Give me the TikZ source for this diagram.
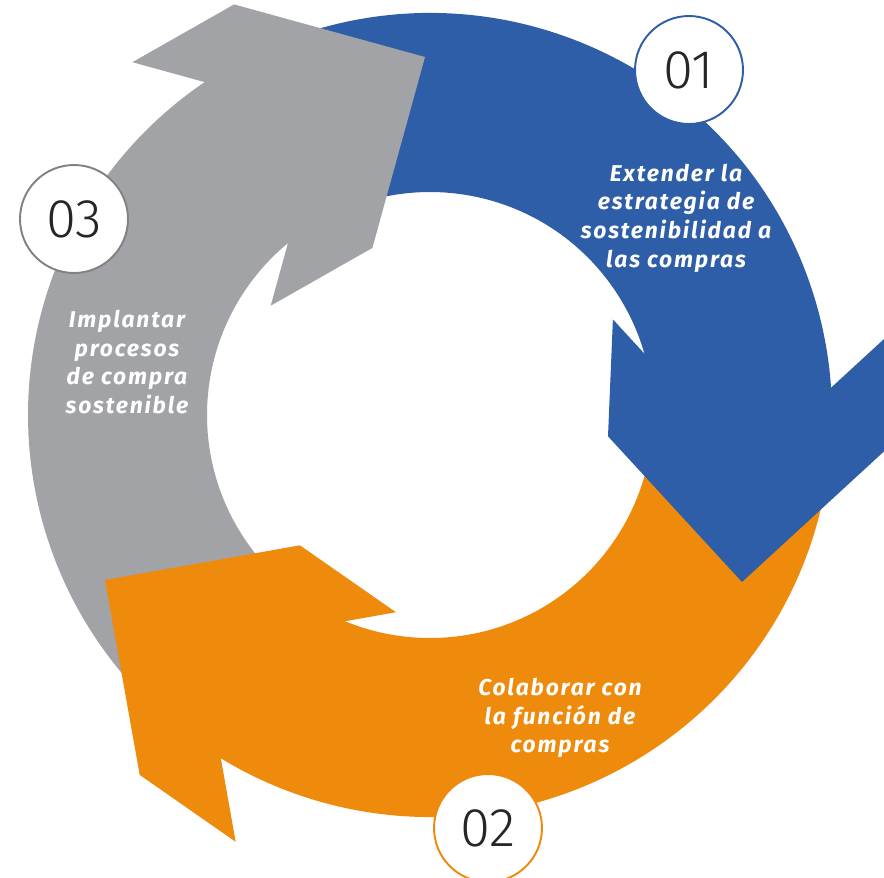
\documentclass[tikz,border=0pt]{standalone}
\usepackage{fontspec}
\setmainfont{Fira Sans}
\newfontfamily\numfont{Fira Sans Light}
\newfontfamily\stepfont{Fira Sans}[LetterSpace=8]
\usepackage{tikz}

\definecolor{ringblue}{RGB}{47,94,168}
\definecolor{ringorange}{RGB}{239,139,12}
\definecolor{ringgray}{RGB}{161,163,166}

\tikzset{
  numcircle/.style={circle,draw=#1,line width=1.1pt,fill=white,minimum size=2.16cm,
    inner sep=0pt,text=black!85,font=\numfont\fontsize{31}{32}\selectfont},
  steptext/.style={align=center,text=white,
    font=\stepfont\bfseries\itshape\fontsize{13}{16.3}\selectfont}
}

\begin{document}
\begin{tikzpicture}[x=0.02cm,y=0.02cm]
      \useasboundingbox (-430,-462) rectangle (454,415);
      \clip (-430,-462) rectangle (454,415);
      % ring pieces
      \fill[ringblue] (107.7:402) arc[start angle=107.7,end angle=-11.3,radius=402]
        -- (-11.3:223) arc[start angle=-11.3,end angle=107.7,radius=223] -- cycle;
      \fill[ringorange] (-11.3:402) arc[start angle=-11.3,end angle=-137.5,radius=402]
        -- (-137.5:223) arc[start angle=-137.5,end angle=-11.3,radius=223] -- cycle;
      \fill[ringgray] (222.5:402) arc[start angle=222.5,end angle=107.7,radius=402]
        -- (107.7:223) arc[start angle=107.7,end angle=222.5,radius=223] -- cycle;
      % heads
      \fill[ringgray] (-5,358) -- (-195.9,410.6) -- (-297.6,352.8) -- (-106.7,300.2)
        -- (-159.3,109.3) -- (-57.6,167.1) -- cycle;
      \fill[ringblue] (312,-167) -- (457.7,-33.0) -- (462.6,83.9) -- (316.9,-50.1)
        -- (182.9,95.6) -- (178.0,-21.3) -- cycle;
      \fill[ringorange] (-325,-165) -- (-290.3,-359.9) -- (-194.3,-426.8) -- (-229,-231.9)
        -- (-34.1,-197.2) -- (-130.1,-130.3) -- cycle;
      % numbers
      \node[numcircle=ringblue] (n01) at (259,345) {01};
      \node[numcircle=ringorange] (n02) at (58,-413) {02};
      \node[numcircle=ringgray!80!black] (n03) at (-356,196) {03};
      % labels
      \node[steptext] (t01) at (246,197) {Extender la\\estrategia de\\sostenibilidad a\\las compras};
      \node[steptext] (t02) at (130,-303) {Colaborar con\\la función de\\compras};
      \node[steptext] (t03) at (-303,53) {Implantar\\procesos\\de compra\\sostenible};
    \end{tikzpicture}
\end{document}
